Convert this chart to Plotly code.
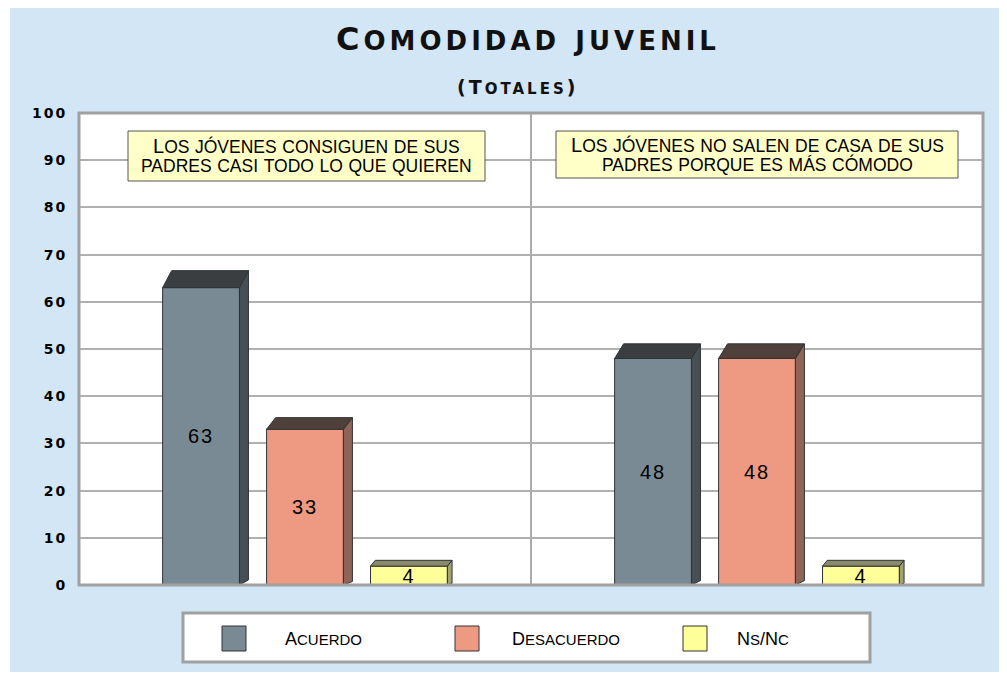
import plotly.graph_objects as go

# ---------------- data ----------------
statement_lines = [
    ["Los jóvenes consiguen de sus", "padres casi todo lo que quieren"],
    ["Los jóvenes no salen de casa de sus", "padres porque es más cómodo"],
]
categories = [" ".join(l) for l in statement_lines]
series_names = ["Acuerdo", "Desacuerdo", "Ns/Nc"]
acuerdo = [63, 48]
desacuerdo = [33, 48]
nsnc = [4, 4]
series_values = [acuerdo, desacuerdo, nsnc]
y_ticks = [0, 10, 20, 30, 40, 50, 60, 70, 80, 90, 100]
title_text = "Comodidad juvenil"
subtitle_text = "(Totales)"

# ---------------- style ----------------
front_colors = ["#7A8A94", "#EE9A82", "#FFFF99"]
top_colors = ["#3A3E41", "#4F403B", "#8A8A68"]
side_colors = ["#474E54", "#8E6556", "#A3A372"]
light_blue = "#D2E6F5"

# page has an 8px body margin: the figure starts at (8, 8) of the screenshot
OFF = 8
W, H = 1007 - OFF, 674 - OFF
L, R, T, B = 79, 983, 113, 585          # plot area in screenshot pixels
PW, PH = R - L, B - T
X_UNIT_PX = PW / 2.0
Y_UNIT_PX = PH / 100.0

def px_x(px):
    return (px - L) / PW

def px_y(py):
    return (B - py) / PH

def smallcaps(text, big, small, spacing=0):
    out, cur, buf = [], None, ""
    for ch in text:
        size = small if ch.islower() else big
        if size != cur and buf:
            out.append((cur, buf))
            buf = ""
        cur = size
        buf += ch.upper()
    if buf:
        out.append((cur, buf))
    ls = f";letter-spacing:{spacing}px" if spacing else ""
    return "".join(f'<span style="font-size:{s}px{ls}">{t}</span>' for s, t in out)

bar_w = 0.17
offsets = [-0.23, 0.0, 0.23]

fig = go.Figure()
for j, (name, vals) in enumerate(zip(series_names, series_values)):
    fig.add_trace(go.Bar(
        x=[0, 1], y=vals, name=name,
        width=bar_w, offset=offsets[j] - bar_w / 2,
        marker=dict(color=front_colors[j], line=dict(color="#2E3436", width=1)),
        text=[f'<span style="letter-spacing:2px">{v}</span>' for v in vals],
        textposition="inside", insidetextanchor="middle", textangle=0,
        textfont=dict(family="Liberation Sans, Arial, sans-serif", size=20, color="black"),
        showlegend=False, hoverinfo="skip",
    ))

shapes = []
# white strips around the blue panel
shapes.append(dict(type="rect", xref="paper", yref="paper", x0=px_x(0), x1=px_x(10),
                   y0=px_y(680), y1=px_y(0), fillcolor="white", line=dict(width=0), layer="below"))
shapes.append(dict(type="rect", xref="paper", yref="paper", x0=px_x(0), x1=px_x(1010),
                   y0=px_y(680), y1=px_y(672), fillcolor="white", line=dict(width=0), layer="below"))

# 3D tops and sides computed from values
for j, vals in enumerate(series_values):
    for i, v in enumerate(vals):
        x0 = i + offsets[j] - bar_w / 2
        x1 = i + offsets[j] + bar_w / 2
        dxp = 4 + 5 * min(1.0, v / 30.0)
        dyp = 5 + 12 * min(1.0, v / 60.0)
        dx = dxp / X_UNIT_PX
        dy = dyp / Y_UNIT_PX
        top = f"M {x0} {v} L {x1} {v} L {x1+dx} {v+dy} L {x0+dx} {v+dy} Z"
        side = f"M {x1} 0 L {x1} {v} L {x1+dx} {v+dy} L {x1+dx} {dy*0.3} Z"
        shapes.append(dict(type="path", xref="x", yref="y", path=side,
                           fillcolor=side_colors[j], line=dict(color="#2E3436", width=1)))
        shapes.append(dict(type="path", xref="x", yref="y", path=top,
                           fillcolor=top_colors[j], line=dict(color="#2E3436", width=1)))

# divider between the two statements
shapes.append(dict(type="line", xref="x", yref="paper", x0=0.5, x1=0.5, y0=0, y1=1,
                   line=dict(color="#ABABAB", width=2), layer="below"))
# plot border
shapes.append(dict(type="rect", xref="paper", yref="paper", x0=0, x1=1, y0=0, y1=1,
                   line=dict(color="#A0A0A0", width=3)))

annotations = []

# statement boxes (box drawn as shape, each line as its own text)
box_x = [(128, 485), (556, 958)]
box_y = [(131, 181), (131, 178)]
line_mid = [(146, 165), (145, 164)]
for i, lines in enumerate(statement_lines):
    shapes.append(dict(type="rect", xref="paper", yref="paper",
                       x0=px_x(box_x[i][0]), x1=px_x(box_x[i][1]),
                       y0=px_y(box_y[i][1]), y1=px_y(box_y[i][0]),
                       fillcolor="#FFFFC8", line=dict(color="#555555", width=1)))
    cx = (box_x[i][0] + box_x[i][1]) / 2
    for k, line in enumerate(lines):
        annotations.append(dict(xref="paper", yref="paper", x=px_x(cx), y=px_y(line_mid[i][k]),
                                xanchor="center", yanchor="middle", showarrow=False,
                                text=smallcaps(line, 20, 17.5),
                                font=dict(family="Liberation Sans, Arial, sans-serif",
                                          color="black")))

# legend (manual)
shapes.append(dict(type="rect", xref="paper", yref="paper", x0=px_x(183), x1=px_x(870),
                   y0=px_y(662), y1=px_y(613), fillcolor="white",
                   line=dict(color="#A0A0A0", width=3)))
leg_sq_x = [222, 455, 683]
leg_tx_x = [283, 510, 735]
for j, name in enumerate(series_names):
    shapes.append(dict(type="rect", xref="paper", yref="paper",
                       x0=px_x(leg_sq_x[j]), x1=px_x(leg_sq_x[j] + 24),
                       y0=px_y(651), y1=px_y(626), fillcolor=front_colors[j],
                       line=dict(color="#333333", width=1)))
    annotations.append(dict(xref="paper", yref="paper", x=px_x(leg_tx_x[j]), y=px_y(639),
                            xanchor="left", yanchor="middle", showarrow=False,
                            text=smallcaps(name, 18, 15),
                            font=dict(family="Liberation Sans, Arial, sans-serif", color="black")))

# title / subtitle
annotations.append(dict(xref="paper", yref="paper", x=px_x(528), y=px_y(39),
                        xanchor="center", yanchor="middle", showarrow=False,
                        text=smallcaps(title_text, 32, 26, spacing=4),
                        font=dict(family="DejaVu Sans, sans-serif", color="#111111",
                                  weight="bold")))
annotations.append(dict(xref="paper", yref="paper", x=px_x(517), y=px_y(87),
                        xanchor="center", yanchor="middle", showarrow=False,
                        text=smallcaps(subtitle_text, 19, 15, spacing=3),
                        font=dict(family="DejaVu Sans, sans-serif", color="#111111",
                                  weight="bold")))

fig.update_layout(
    width=W, height=H,
    margin=dict(l=L - OFF, r=W - (R - OFF), t=T - OFF, b=H - (B - OFF), autoexpand=False),
    paper_bgcolor=light_blue, plot_bgcolor="white",
    barmode="overlay",
    uniformtext=dict(minsize=20, mode="show"),
    xaxis=dict(range=[-0.5, 1.5], showticklabels=False, showgrid=False, zeroline=False,
               showline=False, fixedrange=True),
    yaxis=dict(range=[0, 100], tickvals=y_ticks,
               ticktext=[f'<span style="letter-spacing:2px">{t}</span>' for t in y_ticks],
               showgrid=True, gridcolor="#B0B0B0", gridwidth=2, zeroline=False, showline=False,
               ticks="outside", ticklen=8, tickcolor="rgba(0,0,0,0)",
               tickfont=dict(family="DejaVu Sans, sans-serif", size=14, color="black",
                             weight="bold"),
               fixedrange=True),
    shapes=shapes, annotations=annotations,
    showlegend=False,
)

fig.write_html("out.html")
